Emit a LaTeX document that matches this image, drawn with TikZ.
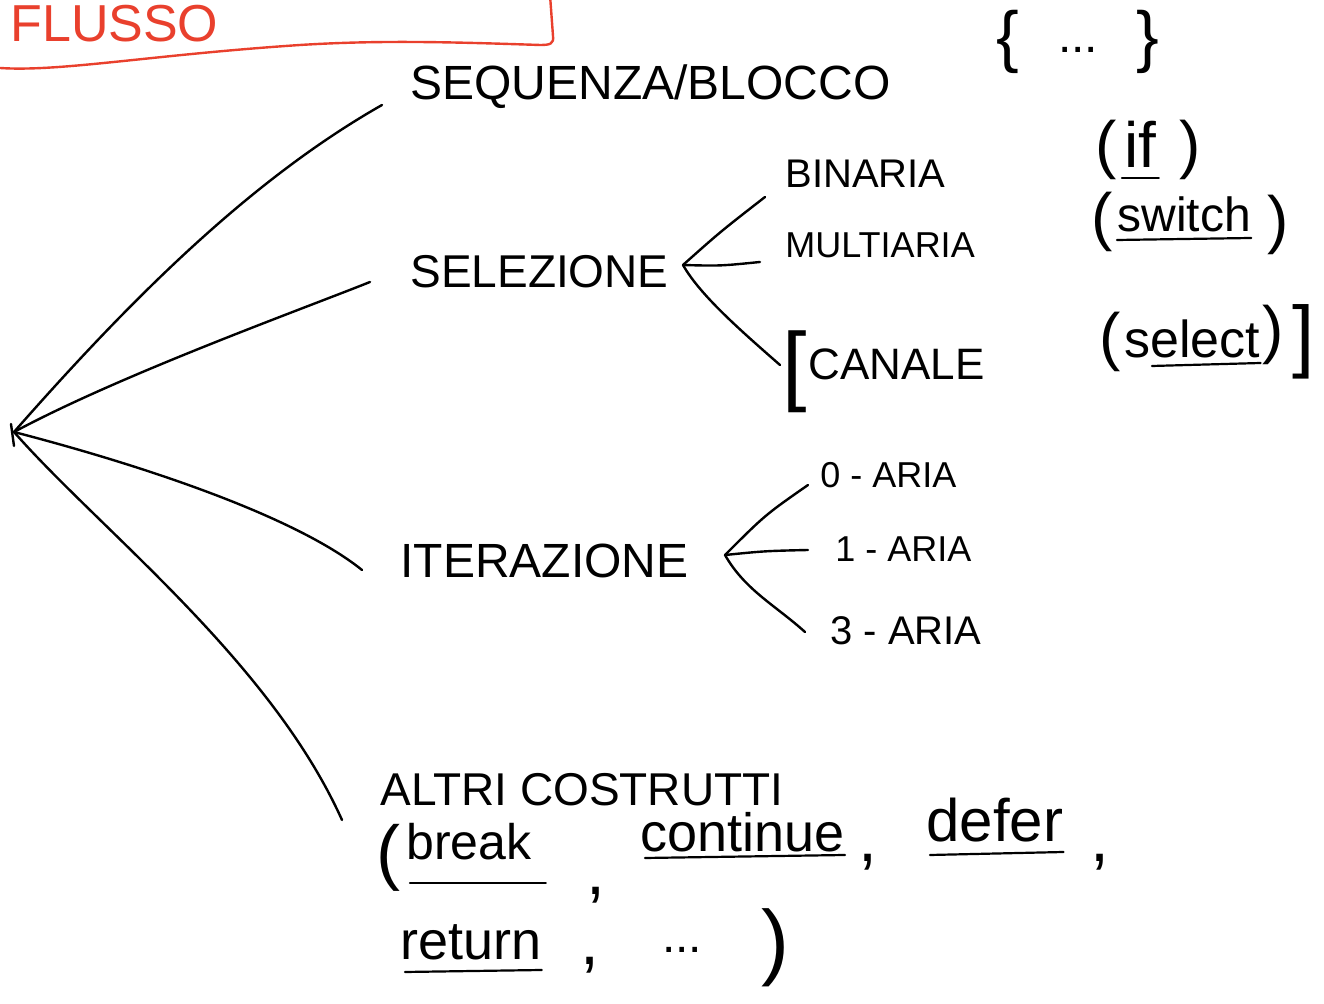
\documentclass[tikz,border=0pt]{standalone}
\usepackage{fontspec}
\setmainfont{Liberation Sans}
\usetikzlibrary{calc}
\definecolor{redink}{RGB}{233,64,45}
\newcommand\myfs[1]{\fontsize{#1}{#1}\selectfont}
\begin{document}
\begin{tikzpicture}[x=0.5pt,y=-0.5pt,
  ink/.style={line width=1.2pt, line cap=round, line join=round},
  lbl/.style={inner sep=0pt, anchor=base west},
  sym/.style={inner sep=0pt, anchor=center},
  uline/.style={line width=1.1pt, line cap=round}]
\useasboundingbox (0,0) rectangle (1324,1004);
\clip (0,0) rectangle (1324,1004);

% red title frame (open at the top)
\node[lbl, text=redink] (flusso) at (10,42) {\myfs{26}FLUSSO};
\draw[redink, ink] (550,-5) .. controls (551,15) .. (553,36)
  .. controls (554,44) and (550,45) .. (540,45)
  .. controls (450,42) and (380,40) .. (300,45)
  .. controls (150,55) and (60,72) .. (0,68);

% root
\coordinate (root) at (14,432);
\draw[ink] (11,424) -- (14,446);

% main labels
\node[lbl] (seq) at (410,100) {\myfs{24}SEQUENZA/BLOCCO};
\node[sym] (lbr) at (1008,42) {\myfs{34}\{};
\node[sym] (dots1) at (1078,50) {\myfs{24}...};
\node[sym] (rbr) at (1148,42) {\myfs{34}\}};

\node[lbl] (sel) at (410,288) {\myfs{23}SELEZIONE};
\node[lbl] (bin) at (785,188) {\myfs{20}BINARIA};
\node[lbl] (mul) at (785,258) {\myfs{18}MULTIARIA};
\node[sym] (lsq) at (795,372) {\myfs{44}[};
\node[lbl] (can) at (808,380) {\myfs{22}CANALE};

\node[sym] (ifo) at (1106,150) {\myfs{32}(};
\node[lbl] (if) at (1124,168) {\myfs{32}if};
\node[sym] (ifc) at (1190,150) {\myfs{32})};

\node[sym] (swo) at (1102,222) {\myfs{32}(};
\node[lbl] (sw) at (1117,232) {\myfs{24}switch};
\node[sym] (swc) at (1278,225) {\myfs{32})};

\node[sym] (seo) at (1110,342) {\myfs{32}(};
\node[lbl] (se) at (1124,358) {\myfs{26}select};
\node[sym] (sec) at (1273,335) {\myfs{32})};
\node[sym] (rsq) at (1304,342) {\myfs{40}]};

\node[lbl] (ite) at (400,578) {\myfs{24}ITERAZIONE};
\node[lbl] (a0) at (820,488) {\myfs{18}0 - ARIA};
\node[lbl] (a1) at (835,562) {\myfs{18}1 - ARIA};
\node[lbl] (a3) at (830,645) {\myfs{20}3 - ARIA};

\node[lbl] (alt) at (380,806) {\myfs{23}ALTRI COSTRUTTI};
\node[sym] (po) at (388,858) {\myfs{36}(};
\node[lbl] (brk) at (406,860) {\myfs{25}break};
\node[sym] (c1) at (596,895) {\myfs{34},};
\node[lbl] (cnt) at (640,852) {\myfs{27}continue};
\node[sym] (c2) at (868,862) {\myfs{34},};
\node[lbl] (dfr) at (926,842) {\myfs{30}defer};
\node[sym] (c3) at (1100,862) {\myfs{34},};
\node[lbl] (ret) at (400,960) {\myfs{27}return};
\node[sym] (c4) at (590,965) {\myfs{34},};
\node[sym] (dots2) at (682,950) {\myfs{24}...};
\node[sym] (pc) at (775,948) {\myfs{42})};

% underlines
\draw[uline] ($(if.base west)+(-2,10)$) -- ($(if.base east)+(2,10)$);
\draw[uline] ($(sw.base west)+(0,8)$) -- ($(sw.base east)+(0,6)$);
\draw[uline] ($(se.base west)+(28,8)$) -- ($(se.base east)+(0,5)$);
\draw[uline] ($(brk.base west)+(4,23)$) -- ($(brk.base east)+(14,23)$);
\draw[uline] ($(cnt.base west)+(5,6)$) -- ($(cnt.base east)+(0,3)$);
\draw[uline] ($(dfr.base west)+(4,13)$) -- ($(dfr.base east)+(0,10)$);
\draw[uline] ($(ret.base west)+(5,12)$) -- ($(ret.base east)+(0,10)$);

% connectors from root
\draw[ink] (root) .. controls (130,300) and (250,180) .. ([xshift=-14pt,yshift=-2.5pt]seq.base west);
\draw[ink] (root) .. controls (120,375) and (300,310) .. ([xshift=-20pt,yshift=3pt]sel.base west);
\draw[ink] (root) .. controls (160,470) and (300,520) .. ([xshift=-19pt,yshift=4pt]ite.base west);
\draw[ink] (root) .. controls (100,530) and (270,660) .. ([xshift=-19pt,yshift=-7pt]alt.base west);

% selezione fork
\coordinate (sfork) at (683,265);
\draw[ink] (sfork) .. controls (720,232) .. ([xshift=-10pt,yshift=-4.5pt]bin.base west);
\draw[ink] (sfork) .. controls (720,266) .. ([xshift=-12.5pt,yshift=-2pt]mul.base west);
\draw[ink] (sfork) .. controls (700,295) and (740,330) .. ([xshift=-14pt,yshift=7.5pt]can.base west);

% iterazione fork
\coordinate (ifork) at (725,555);
\draw[ink] (ifork) .. controls (765,515) .. ([xshift=-6pt,yshift=1.5pt]a0.base west);
\draw[ink] (ifork) .. controls (765,551) .. ([xshift=-13.5pt,yshift=6pt]a1.base west);
\draw[ink] (ifork) .. controls (745,590) and (775,605) .. ([xshift=-12.5pt,yshift=6.5pt]a3.base west);
\end{tikzpicture}
\end{document}
